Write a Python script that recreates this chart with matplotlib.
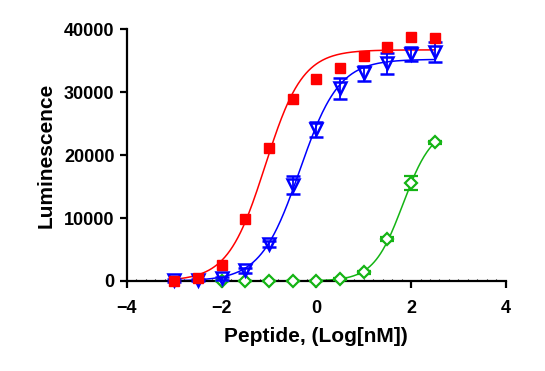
import numpy as np
import matplotlib
matplotlib.use('Agg')
import matplotlib.pyplot as plt

plt.rcParams['font.family'] = ['Liberation Sans', 'DejaVu Sans']
plt.rcParams['font.weight'] = 'bold'

#data (log nM vs luminescence)
x_red = [-3, -2.5, -2, -1.5, -1, -0.5, 0, 0.5, 1, 1.5, 2, 2.5]
y_red = [0, 450, 2540, 9800, 21150, 28900, 32060, 33760, 35700, 37200, 38680, 38520]

x_blue = [-3, -2.5, -2, -1.5, -1, -0.5, 0, 0.5, 1, 1.5, 2, 2.5]
y_blue = [100, 150, 400, 1700, 5870, 15240, 24080, 30590, 32970, 34550, 36030, 36300]
err_blue = [200, 200, 300, 400, 500, 1400, 1150, 1650, 1200, 1700, 1100, 1600]

x_green = [-2, -1.5, -1, -0.5, 0, 0.5, 1, 1.5, 2, 2.5]
y_green = [0, 0, 0, 0, 0, 300, 1380, 6620, 15500, 22000]
err_green = [0, 0, 0, 0, 0, 100, 200, 300, 1100, 300]

#4PL fit parameters (bottom, top, logEC50, hill) estimated from the curves
fit_red = (0, 36700, -1.08, 1.1)
fit_blue = (0, 35200, -0.35, 1.05)
fit_green = (0, 24500, 1.83, 1.4)

xticks = [-4, -2, 0, 2, 4]
yticks = [0, 10000, 20000, 30000, 40000]


def four_pl(x, p):
    bottom, top, logec50, hill = p
    return bottom + (top - bottom) / (1 + 10 ** ((logec50 - x) * hill))


fig = plt.figure(figsize=(5.45, 3.71), dpi=100)
ax = fig.add_axes([0.233, 0.2426, 0.695, 0.679])

red = '#FF0000'
blue = '#0000FF'
green = '#14B414'

for xs, p, c in [(x_red, fit_red, red), (x_blue, fit_blue, blue), (x_green, fit_green, green)]:
    xc = np.linspace(xs[0], xs[-1], 300)
    ax.plot(xc, four_pl(xc, p), color=c, lw=1.1, clip_on=False, zorder=2)

ax.errorbar(x_green, y_green, yerr=err_green, fmt='D', ms=6.5, mfc='white',
            mec=green, mew=1.6, ecolor=green, elinewidth=1.3, capsize=5,
            capthick=1.3, clip_on=False, zorder=3)
ax.errorbar(x_blue, y_blue, yerr=err_blue, fmt='v', ms=9, mfc='none',
            mec=blue, mew=1.8, ecolor=blue, elinewidth=1.3, capsize=5,
            capthick=1.3, clip_on=False, zorder=4)
ax.plot(x_red, y_red, 's', ms=7.5, color=red, clip_on=False, zorder=5)

ax.set_xlim(-4, 4)
ax.set_ylim(0, 40000)
ax.set_xticks(xticks)
ax.set_yticks(yticks)
ax.set_xticks(np.arange(-4, 4.01, 0.2), minor=True)

for s in ['top', 'right']:
    ax.spines[s].set_visible(False)
for s in ['left', 'bottom']:
    ax.spines[s].set_linewidth(1.6)

ax.tick_params(axis='both', which='major', length=5, width=1.6, labelsize=13)
ax.tick_params(axis='x', which='major', pad=9)
ax.tick_params(axis='y', which='major', pad=4)
ax.tick_params(axis='x', which='minor', length=1.5, width=0.8, direction='in')

ax.set_xlabel('Peptide, (Log[nM])', fontsize=15, fontweight='bold', labelpad=7)
ax.set_ylabel('Luminescence', fontsize=15, fontweight='bold', labelpad=6)

fig.savefig('out.png', dpi=100)
